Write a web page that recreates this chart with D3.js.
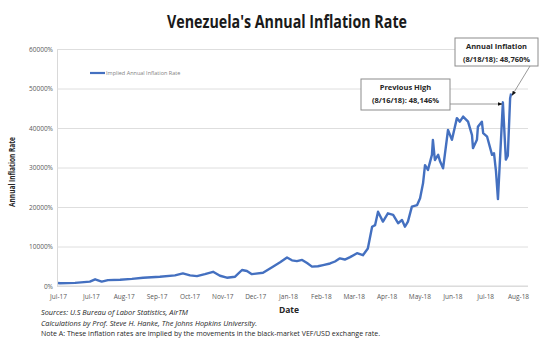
<!DOCTYPE html>
<html><head><meta charset="utf-8">
<script src="https://cdn.jsdelivr.net/npm/d3@7"></script>
<style>body{margin:0;background:#fff}svg{display:block}</style>
</head><body>
<svg id="c" width="550" height="340"></svg>
<script>
const tickLabels = ["Jul-17","Jul-17","Aug-17","Sep-17","Oct-17","Nov-17","Dec-17","Jan-18","Feb-18","Mar-18","Apr-18","May-18","Jun-18","Jul-18","Aug-18"];
const yTicks = [0,10000,20000,30000,40000,50000,60000];
// position along the date axis (in label steps) and implied annual inflation (%)
const pos = [0,0.06,0.52,0.97,1.13,1.33,1.52,1.89,2.25,2.59,3.10,3.56,3.80,4.02,4.23,4.47,4.72,4.93,5.14,5.39,5.60,5.75,5.90,6.24,6.54,6.76,6.97,7.12,7.27,7.43,7.58,7.73,7.91,8.07,8.28,8.43,8.58,8.73,8.89,9.10,9.28,9.43,9.56,9.65,9.74,9.89,10.04,10.20,10.35,10.47,10.56,10.65,10.77,10.93,11.02,11.11,11.17,11.26,11.38,11.41,11.47,11.57,11.63,11.72,11.87,11.99,12.14,12.23,12.33,12.48,12.60,12.63,12.75,12.78,12.90,12.94,13.06,13.21,13.27,13.33,13.39,13.54,13.63,13.69,13.76,13.79];
const inflation = [750,700,800,1100,1700,1100,1500,1600,1800,2100,2350,2700,3200,2700,2500,3000,3600,2600,2100,2350,4050,3800,3000,3350,4900,6000,7200,6500,6300,6600,5800,4900,5000,5300,5700,6200,7000,6700,7300,8300,7800,9500,15000,15400,18800,16300,18400,18000,15900,16700,15000,16300,20100,20500,22200,26000,30600,29400,33200,37000,31900,33200,31500,29800,39500,37000,42500,41600,42900,41600,38200,34900,37000,40300,41600,38700,37800,33200,33600,29000,22000,46500,32000,33000,47500,48760];
const seriesName = "Implied Annual Inflation Rate";
const title = "Venezuela's Annual Inflation Rate";
const notes = ["Sources: U.S Bureau of Labor Statistics, AirTM","Calculations by Prof. Steve H. Hanke, The Johns Hopkins University.","Note A: These inflation rates are implied by the movements in the black-market VEF/USD exchange rate."];

const svg = d3.select("#c");
const font = "'Open Sans', 'Liberation Sans', sans-serif";
const x = d3.scaleLinear().domain([0, tickLabels.length-1]).range([58,518]);
const y = d3.scaleLinear().domain([0,60000]).range([286,49]);
const left = 57, right = 528;

// gridlines + y axis
const ya = svg.append("g").attr("transform",`translate(${left},0)`)
  .call(d3.axisLeft(y).tickValues(yTicks).tickSize(-(right-left)).tickPadding(4).tickFormat(d=>d+"%"));
ya.select(".domain").attr("stroke","#d9d9d9");
ya.selectAll(".tick line").attr("stroke","#dedede");
ya.selectAll(".tick text").attr("font-family",font).attr("font-size",6.5).attr("fill","#595959");

// x axis
const xa = svg.append("g").attr("transform","translate(0,286)")
  .call(d3.axisBottom(x).tickValues(d3.range(tickLabels.length)).tickSize(0).tickPadding(8).tickFormat(i=>tickLabels[i]));
xa.select(".domain").attr("stroke","#d9d9d9").attr("d",`M${left},0H${right}`);
xa.selectAll(".tick text").attr("font-family",font).attr("font-size",6.5).attr("fill","#595959");

// line
const line = d3.line().x((d,i)=>x(pos[i])).y(d=>y(d)).curve(d3.curveLinear);
svg.append("path").datum(inflation).attr("d",line).attr("fill","none")
  .attr("stroke","#4470C0").attr("stroke-width",2.4).attr("stroke-linejoin","round");

// legend
svg.append("line").attr("x1",90).attr("x2",105).attr("y1",73).attr("y2",73).attr("stroke","#4470C0").attr("stroke-width",2.2);
svg.append("text").attr("x",106).attr("y",75).text(seriesName).attr("font-family",font).attr("font-size",5.5).attr("fill","#7f7f7f");

// title
svg.append("text").attr("x",287).attr("y",28).attr("text-anchor","middle").text(title)
  .attr("font-family",font).attr("font-weight","bold").attr("font-size",17).attr("fill","#1a1a1a")
  .attr("textLength",240).attr("lengthAdjust","spacingAndGlyphs");

// axis titles
svg.append("text").attr("transform","translate(15,172) rotate(-90)").attr("text-anchor","middle").text("Annual Inflation Rate")
  .attr("font-family",font).attr("font-weight","bold").attr("font-size",8).attr("fill","#262626")
  .attr("textLength",70).attr("lengthAdjust","spacingAndGlyphs");
svg.append("text").attr("x",289).attr("y",313).attr("text-anchor","middle").text("Date")
  .attr("font-family",font).attr("font-weight","bold").attr("font-size",8.5).attr("fill","#262626");

// notes
const nl = [147,216,339];
notes.forEach((t,i)=>{
  svg.append("text").attr("x",41).attr("y",315+i*10.7).text(t)
   .attr("font-family",font).attr("font-size",7).attr("fill","#262626")
   .attr("font-style", i<2?"italic":"normal")
   .attr("textLength",nl[i]).attr("lengthAdjust","spacingAndGlyphs");
});

// annotations
const defs = svg.append("defs");
defs.append("marker").attr("id","ah").attr("viewBox","0 0 10 10").attr("refX",9).attr("refY",5)
  .attr("markerWidth",6).attr("markerHeight",6).attr("orient","auto")
  .append("path").attr("d","M0,1L10,5L0,9z").attr("fill","#111");
const iLast = inflation.length-1;
const iPrev = inflation.indexOf(46500);
svg.append("line").attr("x1",530).attr("y1",66).attr("x2",x(pos[iLast])+1).attr("y2",y(inflation[iLast])+2)
  .attr("stroke","#7f7f7f").attr("stroke-width",0.8).attr("marker-end","url(#ah)");
svg.append("line").attr("x1",450).attr("y1",104).attr("x2",x(pos[iPrev])-1).attr("y2",104)
  .attr("stroke","#7f7f7f").attr("stroke-width",0.8).attr("marker-end","url(#ah)");

function box(x0,y0,w,h,l1,l2){
  svg.append("rect").attr("x",x0).attr("y",y0).attr("width",w).attr("height",h)
    .attr("fill","#fff").attr("stroke","#8c8c8c").attr("stroke-width",1);
  [l1,l2].forEach((t,i)=>svg.append("text").attr("x",x0+w/2).attr("y",y0+11+i*12.5).attr("text-anchor","middle")
    .text(t).attr("font-family",font).attr("font-weight","bold").attr("font-size",7.5).attr("fill","#262626"));
}
box(455,38,83,28,"Annual Inflation","(8/18/18): 48,760%");
box(361,79,89,31,"Previous High","(8/16/18): 48,146%");
</script>
</body></html>
